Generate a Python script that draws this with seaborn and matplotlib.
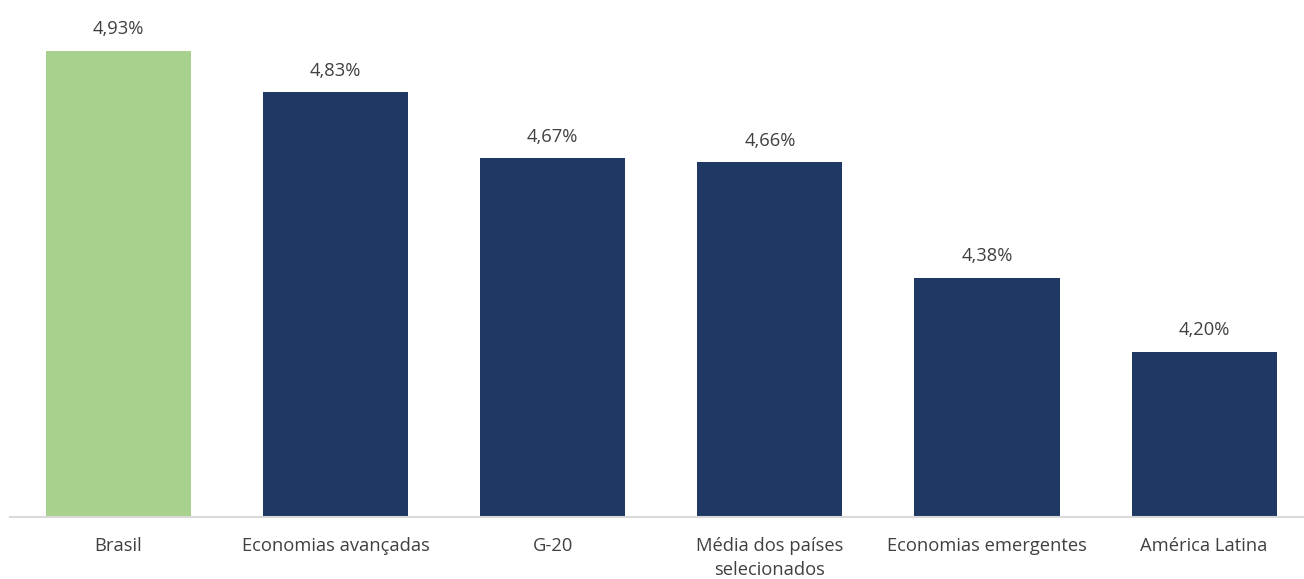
from matplotlib import pyplot as plt
import seaborn as sns
import pandas as pd

categorias = ['Brasil', 'Economias avançadas', 'G-20', 'Média dos países\nselecionados',
              'Economias emergentes', 'América Latina']
valores = [4.93, 4.83, 4.67, 4.66, 4.38, 4.20]
rotulos = ['4,93%', '4,83%', '4,67%', '4,66%', '4,38%', '4,20%']
cores = ['#a9d18e', '#203864', '#203864', '#203864', '#203864', '#203864']

df = pd.DataFrame({'cat': categorias, 'val': valores})

sns.set_style('white')
plt.rcParams['font.family'] = ['Open Sans', 'DejaVu Sans']

fig = plt.figure(figsize=(13.04, 5.79), dpi=100)
ax = fig.add_axes([10 / 1304, 62 / 579, 1294 / 1304, 517 / 579])

sns.barplot(data=df, x='cat', y='val', hue='cat', palette=cores, legend=False,
            width=0.668, saturation=1, linewidth=0, ax=ax)

for i, (v, t) in enumerate(zip(valores, rotulos)):
    ax.annotate(t, (i, v), xytext=(0, 9), textcoords='offset points',
                ha='center', va='bottom', fontsize=13.2, color='#404040')

ax.set_ylim(3.80, 5.053)
ax.set_xlim(-0.5, 5.46)
ax.set(xlabel='', ylabel='', yticks=[])
for s in ['top', 'right', 'left']:
    ax.spines[s].set_visible(False)
ax.spines['bottom'].set_color('#d9d9d9')
ax.spines['bottom'].set_linewidth(1.5)
ax.tick_params(axis='x', length=0, pad=14.5, labelsize=13.2, labelcolor='#404040')
for lab in ax.get_xticklabels():
    lab.set_linespacing(1.45)

fig.savefig('out.png', dpi=100)
